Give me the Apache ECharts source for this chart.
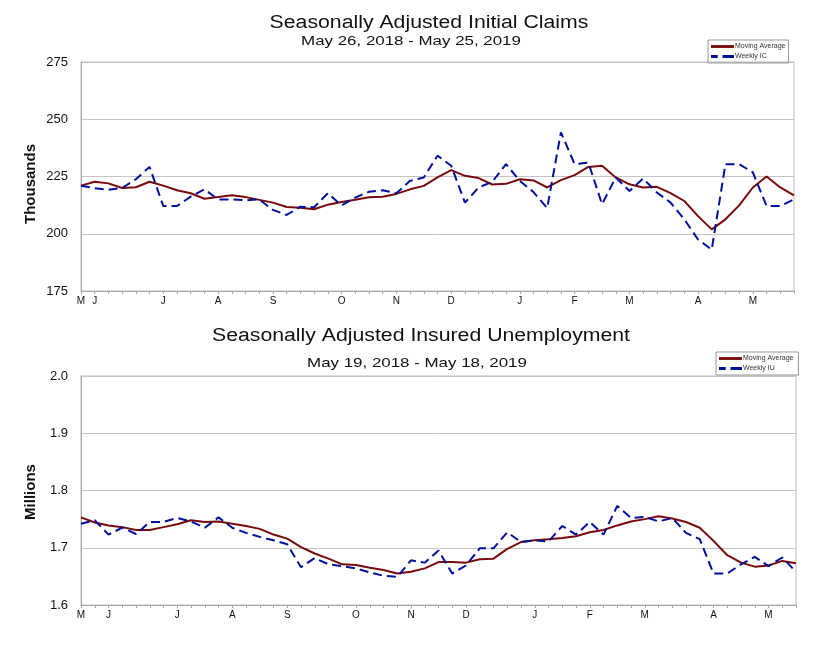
<!DOCTYPE html>
<html><head><meta charset="utf-8">
<script src="https://cdn.jsdelivr.net/npm/echarts@6/dist/echarts.min.js"></script>
<style>html,body{margin:0;padding:0;background:#fff}#c{width:824px;height:660px}</style>
</head><body><div id="c"></div>
<script>
// ---- Top chart: Initial Claims (thousands), weeks May 26 2018 - May 25 2019
const topTickLabels = ['M','J','','','','','J','','','','A','','','','S','','','','','O','','','','N','','','','D','','','','','J','','','','F','','','','M','','','','','A','','','','M','','',''];
const topMovingAvg = [221,222.7,222,220,220.3,222.7,221,219,217.7,215.3,216,216.8,216,214.8,213.6,211.7,211.4,210.7,
  212.7,213.9,214.8,215.9,216.2,217.4,219.4,220.9,224.6,227.8,225.3,224.3,221.5,221.8,223.8,223.3,220.2,
  223.4,225.6,229.2,229.7,224.6,221.6,220.2,220.5,217.7,214.3,207.7,201.9,206.3,212.4,220.2,225,220.2,216.8];
const topWeekly = [221,219.9,219.2,220,223.8,229.2,212.1,212.1,216.2,219.4,215,215,214.6,215,210.4,208.2,211.8,211.6,
  217.7,212.4,215.8,218.3,219,217.7,223.1,224.6,234.1,229.7,213.6,220.2,222.7,230.4,223.1,218.2,211.2,
  244.3,230.4,231.1,212.9,224.6,218.7,224.1,218,213.6,206.3,197.5,193.1,230.4,230.4,226.8,212.1,212.1,215];
const topYTicks = {min:175, max:275, interval:25};

// ---- Bottom chart: Insured Unemployment (millions), weeks May 19 2018 - May 18 2019
const botTickLabels = ['M','','J','','','','','J','','','','A','','','','S','','','','','O','','','','N','','','','D','','','','','J','','','','F','','','','M','','','','','A','','','','M','',''];
const botMovingAvg = [1.753,1.744,1.739,1.736,1.731,1.731,1.736,1.741,1.748,1.745,1.746,1.742,1.738,1.733,1.723,1.716,1.701,1.690,
  1.681,1.671,1.670,1.665,1.661,1.655,1.658,1.664,1.675,1.675,1.674,1.680,1.681,1.698,1.710,1.713,1.715,
  1.717,1.720,1.727,1.731,1.739,1.746,1.750,1.755,1.751,1.745,1.735,1.712,1.687,1.674,1.667,1.669,1.677,1.673];
const botWeekly = [1.742,1.748,1.723,1.735,1.724,1.745,1.745,1.752,1.746,1.735,1.753,1.735,1.726,1.719,1.713,1.706,1.666,1.682,
  1.671,1.668,1.664,1.657,1.651,1.649,1.678,1.674,1.695,1.655,1.669,1.699,1.699,1.727,1.710,1.713,1.711,
  1.738,1.723,1.745,1.723,1.773,1.752,1.754,1.746,1.752,1.726,1.715,1.655,1.655,1.671,1.684,1.668,1.683,1.658];
const botYTicks = {min:1.6, max:2.0, interval:0.1};

const FONT = 'Liberation Sans, Arial, sans-serif';
const RED = '#7a0a0a', BLUE = '#00109a', GRID = '#c4c4c4';
const SOLID_ICON = 'path://M0,0H24V3H0Z';
const DASH_ICON = 'path://M0,0H7V3H0Z M12,0H24V3H12Z';

function xAxis(gridIndex, labels){
  return {type:'category', gridIndex, boundaryGap:false, data: labels.map((_, i) => String(i)),
    axisLine:{lineStyle:{color:'#a8a8a8'}},
    axisTick:{show:true, interval:0, length:3, lineStyle:{color:'#a8a8a8'}},
    axisLabel:{interval:0, margin:5, color:'#111', fontSize:10, fontFamily:FONT,
      formatter:(v, idx) => labels[idx]},
    splitLine:{show:false}};
}
function yAxis(gridIndex, t, dec){
  return {type:'value', gridIndex, min:t.min, max:t.max, interval:t.interval,
    axisLine:{show:true, lineStyle:{color:'#a8a8a8'}}, axisTick:{show:false},
    axisLabel:{margin:13, color:'#111', fontSize:13, fontFamily:FONT,
      formatter:v => dec ? v.toFixed(1) : String(Math.round(v))},
    splitLine:{lineStyle:{color:GRID}}};
}
function txt(text, x, y, size, sx, extra){
  return Object.assign({type:'text', x, y, scaleX:sx, silent:true,
    style:Object.assign({text, fontSize:size, fontFamily:FONT, fill:'#111', textAlign:'center', textVerticalAlign:'middle'}, extra||{})});
}
function legend(left, top, names){
  return {orient:'vertical', left, top, padding:[3,3,3,3], itemGap:3, itemWidth:23, itemHeight:3,
    borderColor:'#999', borderWidth:1, textStyle:{fontSize:7, color:'#333', padding:[0,0,0,-4]},
    data:[{name:names[0], icon:SOLID_ICON}, {name:names[1], icon:DASH_ICON}]};
}
const chart = echarts.init(document.getElementById('c'), null, {renderer:'canvas'});
chart.setOption({
  backgroundColor:'#fff',
  animation:false,
  textStyle:{fontFamily:FONT},
  graphic:[
    txt('Seasonally Adjusted Initial Claims', 429, 23, 18, 1.18),
    txt('May 26, 2018 - May 25, 2019', 411, 41, 13, 1.3),
    txt('Seasonally Adjusted Insured Unemployment', 421, 336, 18, 1.18),
    txt('May 19, 2018 - May 18, 2019', 417, 363, 13, 1.3),
    Object.assign(txt('Thousands', 31, 184, 15, 1, {fontWeight:'bold'}), {rotation:Math.PI/2}),
    Object.assign(txt('Millions', 31, 492, 15, 1, {fontWeight:'bold'}), {rotation:Math.PI/2})
  ],
  legend:[
    legend(708, 40, ['Moving Average','Weekly IC']),
    legend(716, 352, ['Moving Average ','Weekly IU'])
  ],
  grid:[
    {left:81, right:30, top:62, height:229, show:true, borderColor:'#bdbdbd', borderWidth:1, backgroundColor:'transparent'},
    {left:81, right:28, top:376, height:229, show:true, borderColor:'#bdbdbd', borderWidth:1, backgroundColor:'transparent'}
  ],
  xAxis:[xAxis(0, topTickLabels), xAxis(1, botTickLabels)],
  yAxis:[yAxis(0, topYTicks, false), yAxis(1, botYTicks, true)],
  series:[
    {name:'Moving Average', type:'line', xAxisIndex:0, yAxisIndex:0, data:topMovingAvg, symbol:'none',
     lineStyle:{color:RED, width:2}, itemStyle:{color:RED}},
    {name:'Weekly IC', type:'line', xAxisIndex:0, yAxisIndex:0, data:topWeekly, symbol:'none',
     lineStyle:{color:BLUE, width:2, type:[9,5]}, itemStyle:{color:BLUE}},
    {name:'Moving Average ', type:'line', xAxisIndex:1, yAxisIndex:1, data:botMovingAvg, symbol:'none',
     lineStyle:{color:RED, width:2}, itemStyle:{color:RED}},
    {name:'Weekly IU', type:'line', xAxisIndex:1, yAxisIndex:1, data:botWeekly, symbol:'none',
     lineStyle:{color:BLUE, width:2, type:[9,5]}, itemStyle:{color:BLUE}}
  ]
});
</script></body></html>
